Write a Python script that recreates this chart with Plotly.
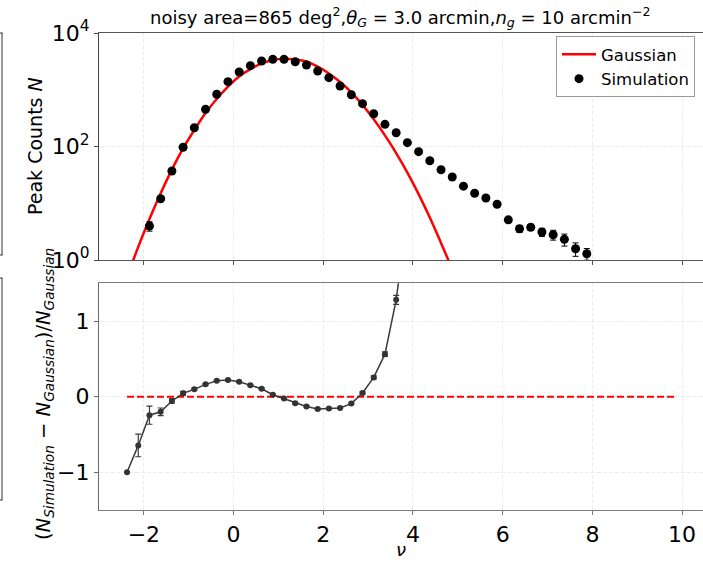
import plotly.graph_objects as go

# ---------------- data ----------------
nu_sim = [-1.875, -1.625, -1.375, -1.125, -0.875, -0.625, -0.375, -0.125,
          0.125, 0.375, 0.625, 0.875, 1.125, 1.375, 1.625, 1.875,
          2.125, 2.375, 2.625, 2.875, 3.125, 3.375, 3.625, 3.875,
          4.125, 4.375, 4.625, 4.875, 5.125, 5.375, 5.625, 5.875,
          6.125, 6.375, 6.625, 6.875, 7.125, 7.375, 7.625, 7.875]
n_sim = [3.97, 12.0, 37, 97, 214, 452, 832, 1387,
         2056, 2655, 3213, 3439, 3439, 3120, 2730, 2138,
         1633, 1165, 818, 568, 378, 246, 175, 117,
         81, 56, 39, 29, 20, 15, 12.4, 9.6,
         5.1, 3.56, 3.77, 3.11, 2.79, 2.31, 1.58, 1.29]
n_sim_err = [0.75, 1.0, 1.5, 2.5, 3.5, 5, 7, 9,
             11, 13, 14, 15, 15, 14, 13, 12,
             10, 9, 7, 6, 5, 4, 3.5, 2.8,
             2.3, 1.9, 1.6, 1.4, 1.1, 1.0, 0.9, 0.8,
             0.55, 0.5, 0.45, 0.5, 0.55, 0.55, 0.42, 0.3]

nu_gauss = [-2.375, -2.125, -1.875, -1.625, -1.375, -1.125, -0.875, -0.625,
            -0.375, -0.125, 0.125, 0.375, 0.625, 0.875, 1.125, 1.375,
            1.625, 1.875, 2.125, 2.375, 2.625, 2.875, 3.125, 3.375,
            3.625, 3.875, 4.125, 4.375, 4.625, 4.875]
n_gauss = [0.5, 1.7, 5.26, 15.0, 39.2, 92.9, 195, 389,
           687, 1137, 1718, 2309, 2908, 3352, 3531, 3421,
           3138, 2551, 1939, 1369, 901, 541, 301, 157,
           76.7, 34.7, 14.5, 5.6, 2.0, 0.69]

nu_ratio = [-2.375, -2.125, -1.875, -1.625, -1.375, -1.125, -0.875, -0.625,
            -0.375, -0.125, 0.125, 0.375, 0.625, 0.875, 1.125, 1.375,
            1.625, 1.875, 2.125, 2.375, 2.625, 2.875, 3.125, 3.375,
            3.625, 3.875]
ratio = [-1.0, -0.645, -0.245, -0.2, -0.057, 0.044, 0.097, 0.163,
         0.211, 0.22, 0.197, 0.15, 0.105, 0.026, -0.026, -0.088,
         -0.13, -0.162, -0.158, -0.149, -0.092, 0.049, 0.255, 0.562,
         1.281, 2.4]
ratio_err = [0.0, 0.15, 0.12, 0.05, 0.03, 0.025, 0.015, 0.01,
             0.01, 0.01, 0.01, 0.01, 0.01, 0.01, 0.01, 0.01,
             0.01, 0.01, 0.01, 0.01, 0.012, 0.015, 0.02, 0.03,
             0.06, 0.1]

zero_line_nu = [-2.375, 9.875]
zero_line_val = [0, 0]

log_ticks = [1, 100, 10000]
log_tick_text = ["10<sup>0</sup>", "10<sup>2</sup>", "10<sup>4</sup>"]
x_ticks = [-2, 0, 2, 4, 6, 8, 10]
x_tick_text = ["\u22122", "0", "2", "4", "6", "8", "10"]
r_ticks = [-1, 0, 1]
r_tick_text = ["\u22121", "0", "1"]

# ---------------- figure ----------------
W, H = 703, 561
ML, MR, MT, MB = 99, 0, 33, 51
PW, PH = W - ML - MR, H - MT - MB

def px_to_py(y):
    return (H - MB - y) / PH

def px_to_px(x):
    return (x - ML) / PW

FONT = "DejaVu Sans"
GRID = "#ececec"
GDASH = "4px,2px"

fig = go.Figure()

fig.add_trace(go.Scatter(
    x=nu_gauss, y=n_gauss, mode="lines", name="Gaussian",
    line=dict(color="#ff0000", width=2.5, shape="spline", smoothing=1.0),
    xaxis="x", yaxis="y"))

fig.add_trace(go.Scatter(
    x=nu_sim, y=n_sim, mode="markers", name="Simulation",
    marker=dict(color="black", size=9),
    error_y=dict(type="data", array=n_sim_err, color="black", thickness=1, width=3),
    xaxis="x", yaxis="y"))

fig.add_trace(go.Scatter(
    x=zero_line_nu, y=zero_line_val, mode="lines", showlegend=False,
    line=dict(color="#ff0000", width=2, dash="7px,3px"),
    xaxis="x2", yaxis="y2"))

fig.add_trace(go.Scatter(
    x=nu_ratio, y=ratio, mode="lines+markers", showlegend=False,
    line=dict(color="#3a3a3a", width=1.5),
    marker=dict(color="#333333", size=6),
    error_y=dict(type="data", array=ratio_err, color="#3a3a3a", thickness=1.2, width=3),
    xaxis="x2", yaxis="y2"))

top_dom = [px_to_py(260), 1.0]
bot_dom = [0.0, px_to_py(283.3)]
xr = [-3, -3 + (W - 98.4) / 44.9]

common_x = dict(range=xr, tickvals=x_ticks, ticktext=x_tick_text,
                showgrid=True, gridcolor=GRID, griddash=GDASH, gridwidth=1,
                zeroline=False, ticks="outside", ticklen=4, tickwidth=1,
                tickfont=dict(family=FONT, size=22, color="black"))

fig.update_layout(
    width=W, height=H,
    margin=dict(l=ML, r=MR, t=MT, b=MB),
    paper_bgcolor="white", plot_bgcolor="white",
    font=dict(family=FONT, color="black"),
    xaxis=dict(common_x, anchor="y", showticklabels=False,
               showline=True, linecolor="#555555", linewidth=1.3, mirror=True,
               tickcolor="#555555"),
    yaxis=dict(domain=top_dom, type="log", range=[0, 4], tickvals=log_ticks,
               ticktext=log_tick_text, showgrid=True, gridcolor=GRID,
               griddash=GDASH, zeroline=False, ticks="outside", ticklen=4,
               showline=True, linecolor="#444444", linewidth=1.3,
               tickcolor="#444444",
               tickfont=dict(family=FONT, size=22, color="black")),
    xaxis2=dict(common_x, anchor="y2", showticklabels=True,
                showline=True, linecolor="#7a7a7a", linewidth=1.3, mirror=True,
                tickcolor="#7a7a7a"),
    yaxis2=dict(domain=bot_dom, range=[-1.5, 1.5], tickvals=r_ticks,
                ticktext=r_tick_text, showgrid=True, gridcolor=GRID,
                griddash=GDASH, zeroline=False, ticks="outside", ticklen=4,
                showline=True, linecolor="#6a6a6a", linewidth=1.3,
                tickcolor="#6a6a6a",
                tickfont=dict(family=FONT, size=22, color="black")),
    legend=dict(x=px_to_px(695), xanchor="right", y=px_to_py(36), yanchor="top",
                bgcolor="rgba(255,255,255,0.9)", bordercolor="#9a9a9a",
                borderwidth=1, font=dict(family=FONT, size=16.5, color="black"),
                itemwidth=34, tracegroupgap=0),
    showlegend=True,
)

annotations = [
    dict(text="noisy area=865 deg<sup>2</sup>,<i>θ<sub>G</sub></i> = 3.0 arcmin,"
              "<i>n<sub>g</sub></i> = 10 arcmin<sup>\u22122</sup>",
         x=px_to_px(400), y=px_to_py(17), xref="paper", yref="paper",
         showarrow=False, font=dict(family=FONT, size=18, color="black"),
         xanchor="center", yanchor="middle"),
    dict(text="Peak Counts <i>N</i>", x=px_to_px(35), y=px_to_py(146),
         xref="paper", yref="paper", showarrow=False, textangle=-90,
         font=dict(family=FONT, size=19, color="black"),
         xanchor="center", yanchor="middle"),
    dict(text="(<i>N<sub>Simulation</sub></i> \u2212 <i>N<sub>Gaussian</sub></i>)/"
              "<i>N<sub>Gaussian</sub></i>",
         x=px_to_px(44), y=px_to_py(394), xref="paper", yref="paper",
         showarrow=False, textangle=-90,
         font=dict(family=FONT, size=19.5, color="black"),
         xanchor="center", yanchor="middle"),
    dict(text="<i>ν</i>", x=px_to_px(401), y=px_to_py(549),
         xref="paper", yref="paper", showarrow=False,
         font=dict(family=FONT, size=18, color="black"),
         xanchor="center", yanchor="middle"),
]
fig.update_layout(annotations=annotations)

# clipped frame edges of a neighbouring panel at the far left
shapes = []
for (y0, y1) in [(33, 255), (278, 500)]:
    shapes.append(dict(type="line", xref="paper", yref="paper",
                       x0=px_to_px(2), x1=px_to_px(2), y0=px_to_py(y0), y1=px_to_py(y1),
                       line=dict(color="#333333", width=1)))
    for yy in (y0, y1):
        shapes.append(dict(type="line", xref="paper", yref="paper",
                           x0=px_to_px(0), x1=px_to_px(2.5), y0=px_to_py(yy), y1=px_to_py(yy),
                           line=dict(color="#333333", width=1)))
fig.update_layout(shapes=shapes)

fig.write_html("out.html")
